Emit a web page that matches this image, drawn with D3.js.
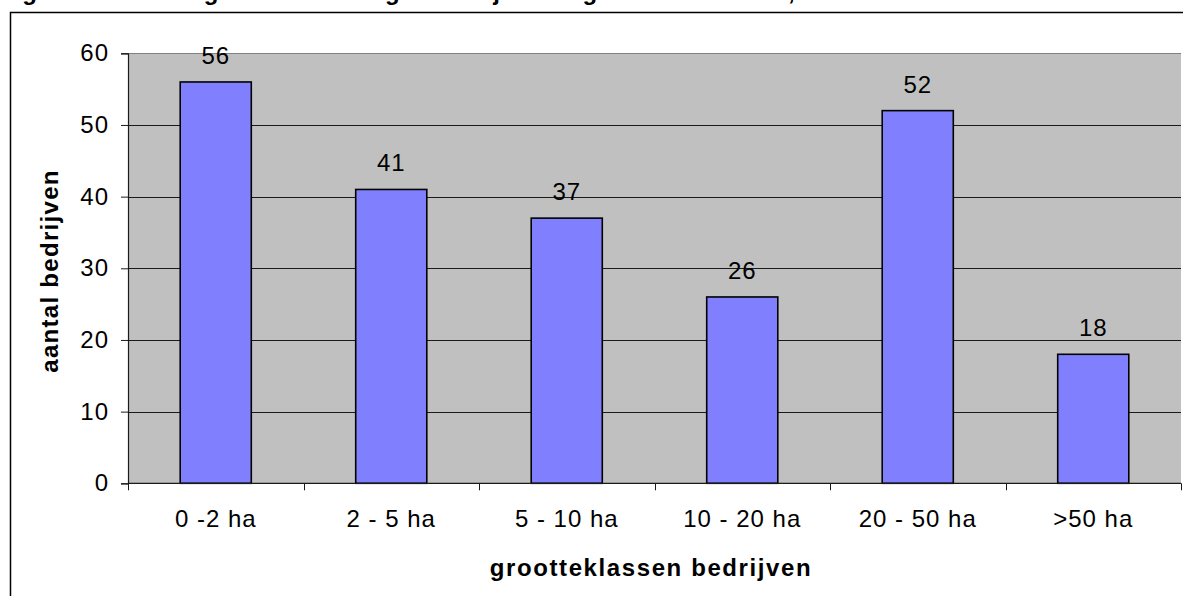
<!DOCTYPE html>
<html>
<head>
<meta charset="utf-8">
<script src="https://cdn.jsdelivr.net/npm/d3@7"></script>
<style>
  body { margin: 0; background: #fff; }
  svg { display: block; font-family: "Liberation Sans", Arial, sans-serif; }
</style>
</head>
<body>
<svg id="chart"></svg>
<script>
// Data
const categories = ["0 -2 ha", "2 - 5 ha", "5 - 10 ha", "10 - 20 ha", "20 - 50 ha", ">50 ha"];
const counts = [56, 41, 37, 26, 52, 18];
const yTicks = [0, 10, 20, 30, 40, 50, 60];

const titleText = "Figuur 2: Verdeling van de bevraagde bedrijven volgens areaalklasse, 2004";
const xTitle = "grootteklassen bedrijven";
const yTitle = "aantal bedrijven";

// Dimensions
const svg_width = 1183;
const svg_height = 596;
const plot = { left: 128, right: 1181, top: 53.3, bottom: 483.3 };

const svg = d3.select("#chart")
  .attr("width", svg_width)
  .attr("height", svg_height);

// Title (top part falls outside the picture)
svg.append("text")
  .attr("x", 1)
  .attr("y", 0)
  .attr("font-size", 24)
  .attr("font-weight", "bold")
  .text(titleText);

// Chart border, runs off the right and bottom edges
svg.append("rect")
  .attr("x", 10.5).attr("y", 12.5)
  .attr("width", 1200).attr("height", 620)
  .attr("fill", "#fff")
  .attr("stroke", "#000")
  .attr("stroke-width", 1.5);

// Scales
const xScale = d3.scaleBand()
  .domain(categories)
  .range([plot.left, plot.right])
  .paddingInner(0.595)
  .paddingOuter(0.2975);

const yScale = d3.scaleLinear()
  .domain([0, 60])
  .range([plot.bottom, plot.top]);

// Plot area
svg.append("rect")
  .attr("x", plot.left).attr("y", plot.top)
  .attr("width", plot.right - plot.left)
  .attr("height", plot.bottom - plot.top)
  .attr("fill", "#c0c0c0");

// Gridlines
svg.append("g")
  .selectAll("line")
  .data(yTicks.filter(d => d > 0 && d < 60))
  .join("line")
  .attr("x1", plot.left).attr("x2", plot.right)
  .attr("y1", d => Math.round(yScale(d)) + 0.5)
  .attr("y2", d => Math.round(yScale(d)) + 0.5)
  .attr("stroke", "#1a1a1a")
  .attr("stroke-width", 1);

// Top edge of plot area
svg.append("line")
  .attr("x1", plot.left).attr("x2", plot.right)
  .attr("y1", Math.round(plot.top) + 0.5).attr("y2", Math.round(plot.top) + 0.5)
  .attr("stroke", "#808080");

// Bars
svg.append("g")
  .selectAll("rect")
  .data(counts)
  .join("rect")
  .attr("x", (d, i) => xScale(categories[i]))
  .attr("y", d => yScale(d))
  .attr("width", xScale.bandwidth())
  .attr("height", d => yScale(0) - yScale(d))
  .attr("fill", "#8080ff")
  .attr("stroke", "#000")
  .attr("stroke-width", 1.6);

// Value labels
svg.append("g")
  .selectAll("text")
  .data(counts)
  .join("text")
  .attr("x", (d, i) => xScale(categories[i]) + xScale.bandwidth() / 2)
  .attr("y", d => yScale(d) - 18)
  .attr("text-anchor", "middle")
  .attr("font-size", 24)
  .attr("letter-spacing", 1)
  .text(d => d);

// Y axis
const yAxis = d3.axisLeft(yScale)
  .tickValues(yTicks)
  .tickSize(7)
  .tickPadding(12);

const yAxisG = svg.append("g")
  .attr("transform", `translate(${plot.left},0)`)
  .call(yAxis);
yAxisG.select(".domain").attr("stroke", "#1a1a1a").attr("stroke-width", 1.2);
yAxisG.selectAll(".tick line").attr("stroke", "#1a1a1a");
yAxisG.selectAll("text")
  .attr("font-size", 24)
  .attr("font-family", "Liberation Sans, Arial, sans-serif")
  .attr("letter-spacing", 1)
  .attr("fill", "#000");

// X axis: ticks at category boundaries
const boundaries = d3.range(categories.length + 1)
  .map(i => plot.left + i * xScale.step());

const xAxisG = svg.append("g");
xAxisG.append("line")
  .attr("x1", plot.left).attr("x2", plot.right)
  .attr("y1", plot.bottom).attr("y2", plot.bottom)
  .attr("stroke", "#1a1a1a").attr("stroke-width", 1.2);
xAxisG.selectAll(".xtick")
  .data(boundaries)
  .join("line")
  .attr("class", "xtick")
  .attr("x1", d => Math.round(d) + 0.5).attr("x2", d => Math.round(d) + 0.5)
  .attr("y1", plot.bottom).attr("y2", plot.bottom + 7)
  .attr("stroke", "#1a1a1a");
xAxisG.selectAll(".xlabel")
  .data(categories)
  .join("text")
  .attr("class", "xlabel")
  .attr("x", d => xScale(d) + xScale.bandwidth() / 2)
  .attr("y", 527)
  .attr("text-anchor", "middle")
  .attr("font-size", 24)
  .attr("letter-spacing", 1)
  .text(d => d);

// Axis titles
svg.append("text")
  .attr("x", 651)
  .attr("y", 576)
  .attr("text-anchor", "middle")
  .attr("font-size", 24)
  .attr("font-weight", "bold")
  .attr("letter-spacing", 1.6)
  .text(xTitle);

svg.append("text")
  .attr("transform", `translate(58, ${(170 + 372) / 2}) rotate(-90)`)
  .attr("text-anchor", "middle")
  .attr("font-size", 24)
  .attr("font-weight", "bold")
  .attr("letter-spacing", 1.3)
  .text(yTitle);
</script>
</body>
</html>
